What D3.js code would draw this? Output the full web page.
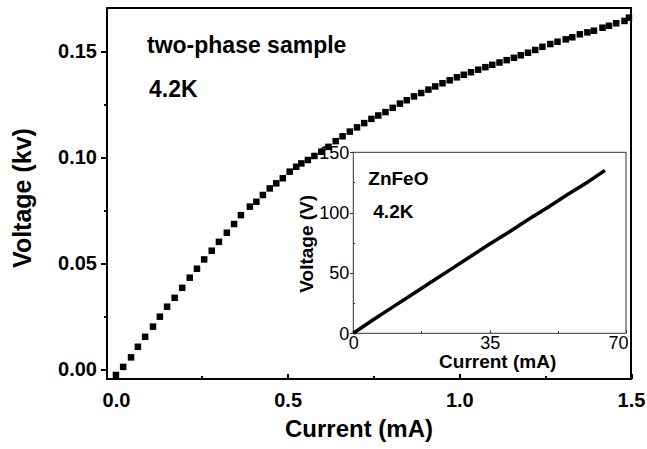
<!DOCTYPE html>
<html>
	<head>
		<meta charset="utf-8">
		<title>two-phase sample I-V</title>
		<script src="https://cdn.jsdelivr.net/npm/d3@7"></script>
		<style>
			body { margin: 0; background: #fff; }
			.chart text { font-family: "Liberation Sans", Arial, sans-serif; fill: #000; }
			.axis path { display: none; }
			.axis line { stroke: #000; shape-rendering: crispEdges; }
			.main .axis line { stroke-width: 2; }
			.main .axis text { font-size: 20px; font-weight: bold; }
			.inset .axis line { stroke: #333; stroke-width: 1; }
			.inset .axis text { font-size: 18px; }
		</style>
	</head>
	<body>
		<svg class="chart"></svg>
		<script>
		// main plot: current (mA) vs voltage (kV)
		var currentMain = [
			0.000, 0.021, 0.044, 0.064, 0.085, 0.108, 0.128, 0.149, 0.171, 0.193,
			0.215, 0.236, 0.257, 0.279, 0.300, 0.323, 0.344, 0.364, 0.390, 0.409,
			0.428, 0.448, 0.467, 0.486, 0.506, 0.525, 0.540, 0.559, 0.578, 0.598,
			0.619, 0.640, 0.660, 0.681, 0.702, 0.723, 0.744, 0.764, 0.785, 0.806,
			0.827, 0.847, 0.868, 0.889, 0.910, 0.930, 0.951, 0.972, 0.993, 1.013,
			1.034, 1.055, 1.076, 1.096, 1.117, 1.138, 1.159, 1.179, 1.200, 1.221,
			1.242, 1.265, 1.286, 1.310, 1.329, 1.351, 1.373, 1.392, 1.417, 1.436,
			1.457, 1.481, 1.494
		];
		var voltageMain = [
			-0.0028, 0.0010, 0.0055, 0.0105, 0.0152, 0.0200, 0.0247, 0.0294, 0.0336, 0.0383,
			0.0431, 0.0473, 0.0517, 0.0558, 0.0600, 0.0643, 0.0684, 0.0726, 0.0766, 0.0789,
			0.0821, 0.0852, 0.0876, 0.0900, 0.0931, 0.0954, 0.0970, 0.0986, 0.1005, 0.1025,
			0.1048, 0.1075, 0.1098, 0.1120, 0.1140, 0.1160, 0.1180, 0.1196, 0.1212, 0.1232,
			0.1252, 0.1268, 0.1286, 0.1302, 0.1318, 0.1333, 0.1348, 0.1362, 0.1376, 0.1388,
			0.1400, 0.1412, 0.1424, 0.1435, 0.1446, 0.1457, 0.1468, 0.1480, 0.1492, 0.1505,
			0.1520, 0.1533, 0.1544, 0.1555, 0.1565, 0.1579, 0.1588, 0.1596, 0.1610, 0.1619,
			0.1631, 0.1642, 0.1657
		];
		var xTicks = [0, 0.5, 1.0, 1.5];
		var xMinor = [0.25, 0.75, 1.25];
		var yTicks = [0, 0.05, 0.10, 0.15];
		var yMinor = [0.025, 0.075, 0.125];

		// inset: ZnFeO, current (mA) vs voltage (V)
		var currentInset = [0, 5, 10, 15, 20, 25, 30, 35, 40, 45, 50, 55, 60, 64.6];
		var voltageInset = [0, 11, 21.5, 32, 42.5, 53, 63.5, 74, 84, 94.5, 104.5, 115, 125, 135];
		var insetXTicks = [0, 35, 70];
		var insetXMinor = [17.5, 52.5];
		var insetYTicks = [0, 50, 100, 150];
		var insetYMinor = [25, 75, 125];

		var margin = {top: 8, right: 16, bottom: 70, left: 107},
				width = 647 -margin.left -margin.right,
				height = 449 -margin.top -margin.bottom;

		var svg = d3.select(".chart")
			.attr("width", 647)
			.attr("height", 449);

		var chart = svg.append("g")
			.attr("class", "main")
			.attr("transform", "translate("+ margin.left +","+ margin.top +")");

		var x = d3.scaleLinear()
			.domain([-0.026, 1.5])
			.range([0, width]);
		var y = d3.scaleLinear()
			.domain([-0.0047, 0.1703])
			.range([height, 0]);

		// x axis, ticks pointing inward
		chart.append("g")
			.attr("class", "x axis")
			.attr("transform", "translate(0,"+ height +")")
			.call(d3.axisBottom(x).tickValues(xTicks).tickSizeInner(-5).tickPadding(14).tickFormat(d3.format(".1f")));
		chart.append("g")
			.attr("class", "x axis")
			.attr("transform", "translate(0,"+ height +")")
			.call(d3.axisBottom(x).tickValues(xMinor).tickSizeInner(-3).tickFormat(""));

		chart.append("g")
			.attr("class", "y axis")
			.call(d3.axisLeft(y).tickValues(yTicks).tickSizeInner(6).tickPadding(4).tickFormat(d3.format(".2f")));
		chart.append("g")
			.attr("class", "y axis")
			.call(d3.axisLeft(y).tickValues(yMinor).tickSizeInner(3).tickFormat(""));

		chart.append("rect")
			.attr("width", width)
			.attr("height", height)
			.attr("fill", "none")
			.attr("stroke", "#000")
			.attr("stroke-width", 2);

		var pts = currentMain.map(function(c, i){ return {c: c, v: voltageMain[i]}; });
		var s = 6.5;
		chart.selectAll(".pt")
			.data(pts)
			.enter().append("rect")
			.attr("class", "pt")
			.attr("x", function(d){ return x(d.c) - s/2; })
			.attr("y", function(d){ return y(d.v) - s/2; })
			.attr("width", s)
			.attr("height", s)
			.attr("fill", "#000");

		chart.append("text")
			.attr("x", 40).attr("y", 45)
			.style("font-size", "23px").style("font-weight", "bold")
			.text("two-phase sample");
		chart.append("text")
			.attr("x", 42).attr("y", 89)
			.style("font-size", "23px").style("font-weight", "bold")
			.text("4.2K");

		svg.append("text")
			.attr("transform", "translate("+ (margin.left + width/2 - 10) +",437)")
			.attr("text-anchor", "middle")
			.style("font-size", "24px").style("font-weight", "bold")
			.text("Current (mA)");
		svg.append("text")
			.attr("transform", "translate(31,198) rotate(-90)")
			.attr("text-anchor", "middle")
			.style("font-size", "25px").style("font-weight", "bold")
			.text("Voltage (kv)");

		// inset
		var ix0 = 353.3, iy0 = 152.3, iw = 272.7, ih = 181;
		var inset = svg.append("g")
			.attr("class", "inset")
			.attr("transform", "translate("+ ix0 +","+ iy0 +")");

		inset.append("rect")
			.attr("width", iw)
			.attr("height", ih)
			.attr("fill", "#fff");

		var xi = d3.scaleLinear().domain([0, 70]).range([0, iw]);
		var yi = d3.scaleLinear().domain([0, 150]).range([ih, 0]);

		var ixAxis = inset.append("g")
			.attr("class", "x axis")
			.attr("transform", "translate(0,"+ ih +")")
			.call(d3.axisBottom(xi).tickValues(insetXTicks).tickSizeInner(-3).tickPadding(3).tickFormat(d3.format("d")));
		ixAxis.selectAll("text").filter(function(d){ return d === 70; }).attr("dx", -8);
		inset.append("g")
			.attr("class", "x axis")
			.attr("transform", "translate(0,"+ ih +")")
			.call(d3.axisBottom(xi).tickValues(insetXMinor).tickSizeInner(-2).tickFormat(""));
		inset.append("g")
			.attr("class", "y axis")
			.call(d3.axisLeft(yi).tickValues(insetYTicks).tickSizeInner(3).tickPadding(1).tickFormat(d3.format("d")));
		inset.append("g")
			.attr("class", "y axis")
			.call(d3.axisLeft(yi).tickValues(insetYMinor).tickSizeInner(-2).tickFormat(""));

		inset.append("rect")
			.attr("width", iw)
			.attr("height", ih)
			.attr("fill", "none")
			.attr("stroke", "#333")
			.attr("stroke-width", 1);

		var ipts = currentInset.map(function(c, i){ return {c: c, v: voltageInset[i]}; });
		inset.append("path")
			.datum(ipts)
			.attr("fill", "none")
			.attr("stroke", "#000")
			.attr("stroke-width", 3.5)
			.attr("d", d3.line().x(function(d){ return xi(d.c); }).y(function(d){ return yi(d.v); }));

		inset.append("text")
			.attr("x", 15).attr("y", 33)
			.style("font-size", "19px").style("font-weight", "bold")
			.text("ZnFeO");
		inset.append("text")
			.attr("x", 20).attr("y", 66)
			.style("font-size", "19px").style("font-weight", "bold")
			.text("4.2K");
		inset.append("text")
			.attr("transform", "translate("+ (iw/2 + 8) +","+ (ih + 35) +")")
			.attr("text-anchor", "middle")
			.style("font-size", "19px").style("font-weight", "bold")
			.text("Current (mA)");
		inset.append("text")
			.attr("transform", "translate(-40,"+ (ih/2 + 1) +") rotate(-90)")
			.attr("text-anchor", "middle")
			.style("font-size", "19px").style("font-weight", "bold")
			.text("Voltage (V)");
		</script>
	</body>
</html>
